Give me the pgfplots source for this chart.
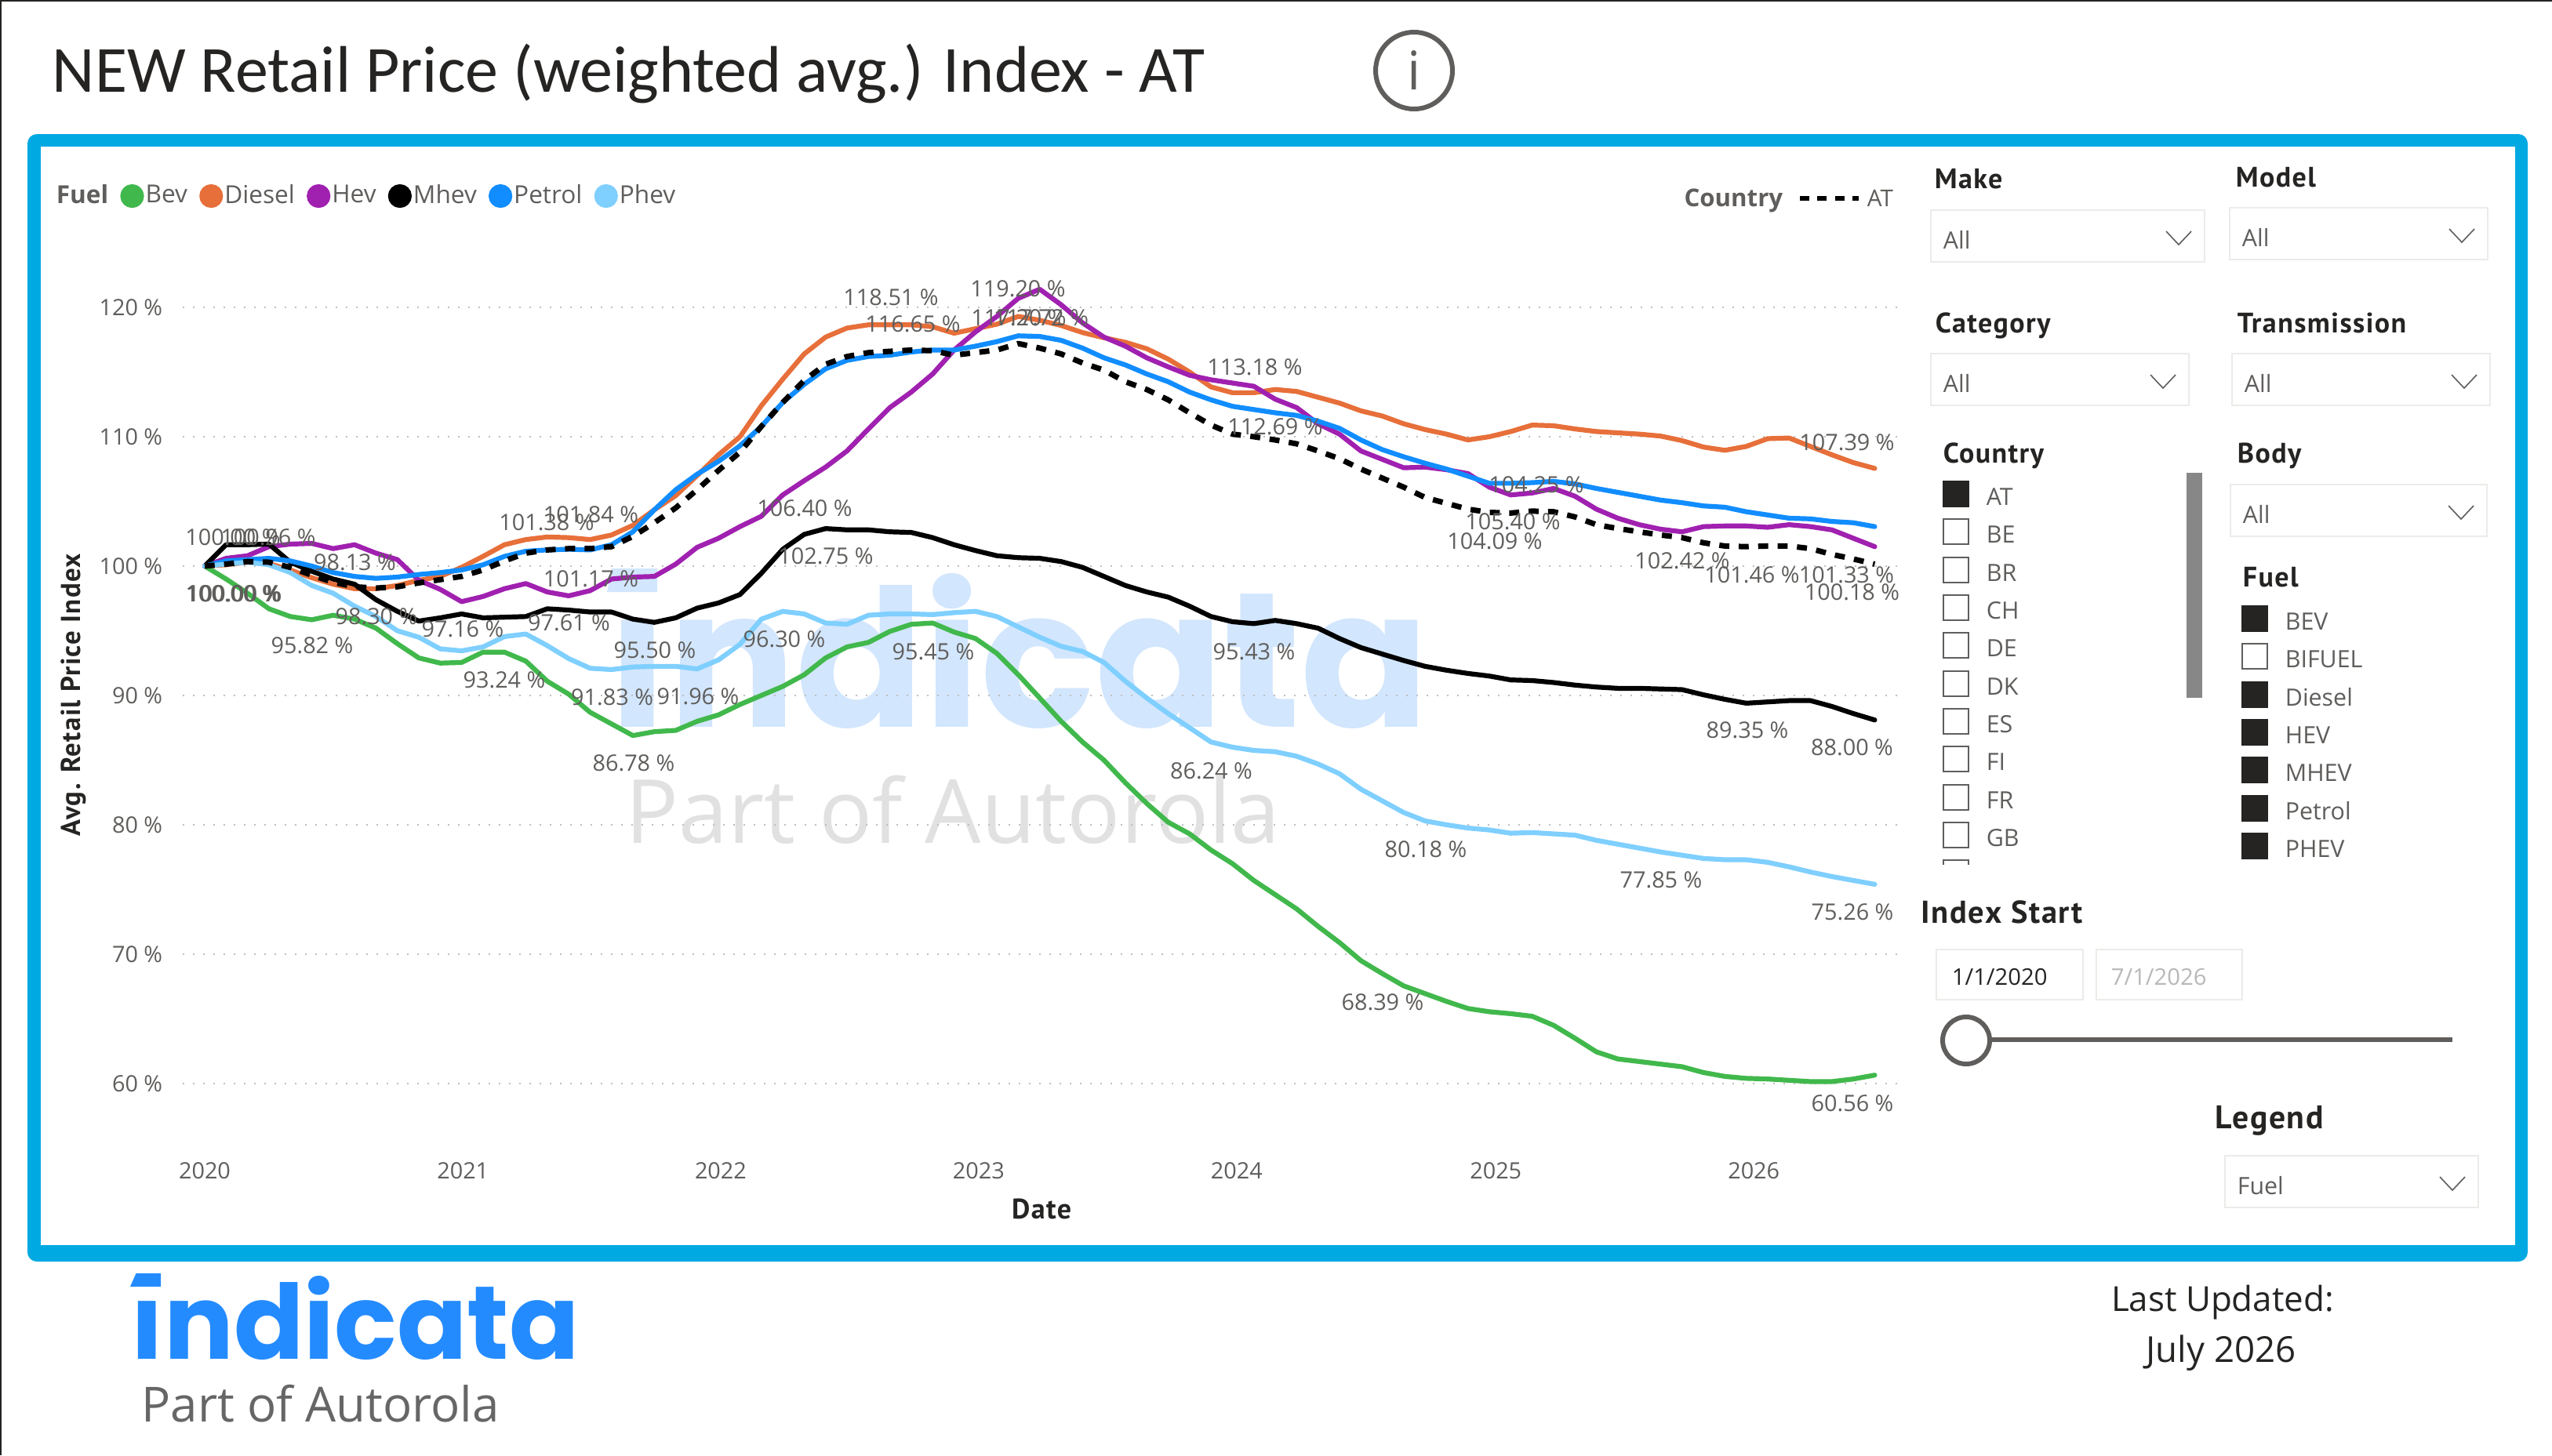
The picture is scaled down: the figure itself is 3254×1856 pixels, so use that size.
\documentclass[border=0pt]{standalone}
\usepackage{graphicx}
\usepackage{fontspec}
\usepackage{pgfplots}
\usepackage{pgfplotstable}
\pgfplotsset{compat=1.18}
\setmainfont{Open Sans}
\newfontfamily\din[LetterSpace=4]{PT Sans}
\newfontfamily\logofont{Poppins}
\newfontfamily\titlefont{Carlito}
\definecolor{bev}{HTML}{41B84C}
\definecolor{diesel}{HTML}{E76F3A}
\definecolor{hev}{HTML}{A020B0}
\definecolor{petrol}{HTML}{118DFF}
\definecolor{phev}{HTML}{7FCFFF}
\definecolor{frame}{HTML}{00A9E2}
\definecolor{txt}{HTML}{605E5C}
\definecolor{dark}{HTML}{252423}
\definecolor{boxc}{HTML}{EDEBE9}
\definecolor{wmblue}{HTML}{D2E6FD}
\definecolor{wmgray}{HTML}{E1E1E1}
\definecolor{logoblue}{HTML}{248BFF}
\newcommand\fs[1]{\fontsize{#1}{#1}\selectfont}

% i bev diesel hev mhev petrol phev at
\pgfplotstableread{
i bev diesel hev mhev petrol phev at
0 100 100 100 100 100 100 100
1 99.0 100.1 100.6 101.65 100.4 100.15 100.15
2 97.9 100.3 100.8 101.65 100.5 100.3 100.35
3 96.7 100.2 101.5 101.7 100.6 100.1 100.3
4 96.1 99.7 101.7 100.3 100.4 99.5 99.9
5 95.85 99.1 101.75 99.6 100 98.5 99.3
6 96.2 98.6 101.35 99 99.5 97.9 98.75
7 95.9 98.25 101.65 98.6 99.2 96.9 98.4
8 95.2 98.25 101 97.4 99.05 96.1 98.3
9 94 98.5 100.5 96.5 99.15 95 98.4
10 92.9 98.9 98.9 95.75 99.35 94.5 98.7
11 92.5 99.2 98.2 96 99.5 93.6 98.95
12 92.55 99.9 97.25 96.3 99.7 93.45 99.2
13 93.35 100.75 97.65 96 100.1 93.75 99.7
14 93.35 101.65 98.25 96.05 100.75 94.55 100.4
15 92.65 102.05 98.65 96.1 101.15 94.75 101
16 91.1 102.25 98 96.7 101.25 93.85 101.25
17 90.1 102.2 97.7 96.6 101.3 92.85 101.35
18 88.7 102.05 98.1 96.45 101.25 92.1 101.35
19 87.8 102.4 99 96.45 101.65 92 101.5
20 86.9 103.15 99.15 95.9 102.65 92.2 102.3
21 87.2 104.35 99.2 95.65 104.35 92.25 103.35
22 87.3 105.45 100.15 96 105.9 92.25 104.5
23 88 107 101.45 96.75 107.1 92.05 105.9
24 88.5 108.6 102.15 97.15 108.1 92.75 107.4
25 89.3 110 103.05 97.8 109.3 93.95 108.8
26 90 112.4 103.85 99.45 110.8 95.9 110.8
27 90.7 114.45 105.5 101.3 112.65 96.5 112.65
28 91.6 116.4 106.6 102.45 114.05 96.3 114.35
29 92.9 117.7 107.65 102.9 115.25 95.6 115.6
30 93.75 118.4 108.9 102.8 115.9 95.5 116.2
31 94.1 118.65 110.6 102.8 116.2 96.2 116.5
32 94.95 118.65 112.25 102.65 116.3 96.3 116.6
33 95.5 118.65 113.45 102.6 116.55 96.3 116.7
34 95.6 118.5 114.85 102.2 116.7 96.25 116.65
35 94.9 118 116.7 101.65 116.7 96.4 116.3
36 94.4 118.35 118.1 101.2 117 96.5 116.5
37 93.25 118.7 119.3 100.8 117.35 96.1 116.7
38 91.6 119.3 120.7 100.65 117.8 95.3 117.2
39 89.8 119 121.4 100.6 117.75 94.5 116.85
40 88 118.6 120.2 100.35 117.45 93.8 116.4
41 86.4 118.05 118.8 99.9 116.85 93.4 115.7
42 85 117.65 117.7 99.2 116.1 92.55 115.15
43 83.25 117.3 117 98.5 115.55 91.1 114.25
44 81.65 116.8 116.1 98 114.85 89.8 113.65
45 80.2 116 115.4 97.6 114.25 88.6 112.85
46 79.3 115 114.75 96.9 113.45 87.5 111.85
47 78.05 113.85 114.4 96.1 112.85 86.4 110.9
48 77 113.4 114.15 95.7 112.35 86 110.2
49 75.7 113.4 113.9 95.55 112.1 85.75 110
50 74.6 113.65 112.9 95.8 111.85 85.65 109.75
51 73.5 113.5 112.25 95.55 111.65 85.3 109.45
52 72.15 113.05 111 95.2 111.2 84.7 108.9
53 70.9 112.6 110.2 94.4 110.65 83.95 108.3
54 69.5 112 108.9 93.7 109.75 82.75 107.5
55 68.5 111.6 108.25 93.2 109 81.85 106.8
56 67.55 111 107.6 92.7 108.45 80.95 106.1
57 66.95 110.55 107.65 92.25 107.95 80.3 105.3
58 66.35 110.2 107.45 91.95 107.5 80 104.85
59 65.8 109.75 107.15 91.7 106.95 79.75 104.4
60 65.55 110 106.1 91.5 106.4 79.6 104.15
61 65.4 110.4 105.5 91.2 106.4 79.35 104.1
62 65.2 110.9 105.65 91.15 106.45 79.4 104.25
63 64.5 110.85 106 91 106.55 79.3 104.2
64 63.5 110.6 105.4 90.8 106.35 79.2 103.8
65 62.45 110.4 104.4 90.65 106 78.8 103.2
66 61.9 110.3 103.7 90.55 105.7 78.5 102.9
67 61.7 110.2 103.2 90.55 105.4 78.2 102.65
68 61.5 110.05 102.85 90.5 105.1 77.9 102.4
69 61.3 109.7 102.65 90.45 104.9 77.65 102.2
70 60.85 109.2 103.05 90.05 104.65 77.4 101.8
71 60.55 108.95 103.1 89.7 104.55 77.3 101.55
72 60.4 109.25 103.1 89.4 104.2 77.3 101.5
73 60.35 109.85 103 89.5 103.95 77.1 101.55
74 60.25 109.9 103.2 89.6 103.7 76.75 101.55
75 60.15 109.25 103.05 89.6 103.65 76.35 101.35
76 60.15 108.6 102.8 89.15 103.45 76 100.9
77 60.35 108 102.15 88.6 103.35 75.7 100.55
78 60.65 107.55 101.5 88.1 103.05 75.4 100.15
}\prices

% data labels, centre given in reference pixels
\newcommand\dl[3]{\node[anchor=base,inner sep=0,text=txt,font=\fs{7.2}] at (#1,#2+10.5) {#3};}
% dropdown: x1 y1 x2 y2 text
\newcommand\drop[5]{%
  \draw[boxc,line width=0.7pt] (#1,#2) rectangle (#3,#4);
  \node[anchor=base west,inner sep=0,text=txt,font=\fs{7.6}] at (#1+15,#2+49) {#5};
  \draw[txt,line width=0.4pt] (#3-49,#2+27) -- (#3-33,#2+44) -- (#3-17,#2+27);}
\newcommand\slhead[3]{\node[anchor=base west,inner sep=0,text=dark,font=\din\bfseries\fs{9}] at (#1,#2+12) {#3};}
\newcommand\chk[4]{% x y filled text
  \ifnum#3=1 \fill[dark!100] (#1,#2) rectangle (#1+34,#2+34);
  \else \draw[txt,line width=0.4pt] (#1+1,#2+1) rectangle (#1+33,#2+33);\fi
  \node[anchor=base west,inner sep=0,text=txt,font=\fs{7.6}] at (#1+55,#2+31) {#4};}

\begin{document}
\begin{tikzpicture}
\begin{scope}[x=0.25pt,y=-0.25pt]
  \path[use as bounding box] (0,0) rectangle (3254,1856);
  \fill[white] (0,0) rectangle (3254,1856);
  \fill[dark] (0,0) rectangle (3254,2);
  \fill[dark] (0,0) rectangle (2,1856);
  % title and info icon
  \node[anchor=base west,inner sep=0,text=dark] at (66,117) {\resizebox{367.25pt}{!}{\titlefont\fs{20}NEW Retail Price (weighted avg.) Index - AT}};
  \draw[txt,line width=1.5pt] (1803,90) circle (49);
  \node[anchor=center,inner sep=0,text=txt,font=\fs{17}] at (1803,90) {i};
  % panel frame
  \fill[frame,rounded corners=3pt] (35,171) rectangle (3223,1609);
  \fill[white] (52,187) rectangle (3207,1588);
  % watermark behind the lines
  \node[anchor=base west,inner sep=0,text=wmblue] at (774,927) {\resizebox{261.75pt}{49pt}{\logofont\bfseries\fs{20}ındicata}};
  \fill[wmblue] (780,725) -- (838,725) -- (838,755) -- (774,755) -- cycle;
  \node[anchor=base west,inner sep=0,text=wmgray] at (797,1075) {\resizebox{208.75pt}{!}{\fs{20}Part of Autorola}};
\end{scope}

\begin{axis}[
  at={(58.25pt,-360pt)}, anchor=south west,
  scale only axis, width=547pt, height=275pt,
  xmin=-1.026, xmax=79.12, ymin=56.48, ymax=123.15,
  axis line style={draw=none}, tick style={draw=none},
  clip=false,
  ymajorgrids,
  grid style={draw=black!25,line width=0.55pt,dash pattern=on 0.6pt off 2.65pt},
  xtick={0,12.06,24.1,36.15,48.2,60.3,72.35},
  xticklabels={2020,2021,2022,2023,2024,2025,2026},
  ytick={60,70,80,90,100,110,120},
  yticklabels={60 \%,70 \%,80 \%,90 \%,100 \%,110 \%,120 \%},
  ticklabel style={font=\fs{7.2},text=txt,inner sep=0},
  xticklabel style={yshift=-10.5pt},
  yticklabel style={xshift=-6.25pt},
  xlabel={Date}, ylabel={Avg. Retail Price Index},
  x label style={at={(axis description cs:0.5005,-0.0927)},anchor=center,font=\din\bfseries\fs{9},text=dark},
  y label style={at={(axis description cs:-0.0636,0.5036)},anchor=center,font=\din\bfseries\fs{8.7},text=dark},
  every axis plot/.append style={line width=1.55pt,line join=round,line cap=round},
  legend style={at={(axis description cs:-0.0746,1.0818)},anchor=west,draw=none,fill=none,
    inner sep=0pt,outer sep=0pt,font=\fs{7.9},text=txt,legend columns=-1,
    /tikz/every even column/.append style={column sep=1.8pt},
    /tikz/every odd column/.append style={column sep=-1.5pt}},
  legend image code/.code={\fill[#1] (0,0) circle (3pt);},
]
\addlegendimage{empty legend}\addlegendentry{\textbf{Fuel}\hspace{1.5pt}}
\addplot[color=bev] table[x=i,y=bev] {\prices};\addlegendentry{Bev}
\addplot[color=diesel] table[x=i,y=diesel] {\prices};\addlegendentry{Diesel}
\addplot[color=hev] table[x=i,y=hev] {\prices};\addlegendentry{Hev}
\addplot[color=black] table[x=i,y=mhev] {\prices};\addlegendentry{Mhev}
\addplot[color=petrol] table[x=i,y=petrol] {\prices};\addlegendentry{Petrol}
\addplot[color=phev] table[x=i,y=phev] {\prices};\addlegendentry{Phev}
\addplot[color=black,line width=1.75pt,line cap=butt,dash pattern=on 3.2pt off 3pt,forget plot] table[x=i,y=at] {\prices};
\end{axis}

\begin{scope}[x=0.25pt,y=-0.25pt]
  % country legend
  \node[anchor=base east,inner sep=0,text=txt,font=\bfseries\fs{7.8}] at (2274,263) {Country};
  \draw[black,line width=1.3pt,dash pattern=on 3pt off 2.6pt] (2295,253) -- (2370,253);
  \node[anchor=base west,inner sep=0,text=txt,font=\fs{7.4}] at (2380,263) {AT};
  % data labels
  \dl{297}{685}{100.00 \%}\dl{342}{685}{100.96 \%}
  \dl{297}{757}{100.00 \%}\dl{298}{757}{100.00 \%}\dl{299}{757}{100.00 \%}
  \dl{452.5}{717}{98.13 \%}\dl{480}{786}{98.30 \%}\dl{398}{823}{95.82 \%}
  \dl{590}{802}{97.16 \%}\dl{643}{867}{93.24 \%}\dl{725.5}{794}{97.61 \%}
  \dl{697}{666}{101.38 \%}\dl{753.5}{656}{101.84 \%}\dl{753.5}{738}{101.17 \%}
  \dl{835}{829}{95.50 \%}\dl{780.6}{889}{91.83 \%}\dl{890}{888}{91.96 \%}
  \dl{808}{973}{86.78 \%}\dl{1000}{815}{96.30 \%}\dl{1026}{648}{106.40 \%}
  \dl{1053}{709}{102.75 \%}\dl{1136}{379}{118.51 \%}\dl{1164}{413}{116.65 \%}
  \dl{1298}{368}{119.20 \%}\dl{1299}{405}{117.20 \%}\dl{1327.5}{405}{117.72 \%}
  \dl{1600}{468}{113.18 \%}\dl{1626}{544}{112.69 \%}\dl{1599}{831}{95.43 \%}
  \dl{1190}{831}{95.45 \%}\dl{1544.5}{983}{86.24 \%}\dl{1818}{1083}{80.18 \%}
  \dl{2118}{1122}{77.85 \%}\dl{2362}{1163}{75.26 \%}\dl{1763}{1278}{68.39 \%}
  \dl{2362}{1407}{60.56 \%}\dl{2355}{563.5}{107.39 \%}\dl{1959}{618}{104.25 \%}
  \dl{1929}{665}{105.40 \%}\dl{1906}{690}{104.09 \%}\dl{2145}{715}{102.42 \%}
  \dl{2234}{733}{101.46 \%}\dl{2354.5}{733}{101.33 \%}\dl{2361.5}{755}{100.18 \%}
  \dl{2228}{931}{89.35 \%}\dl{2361.5}{953}{88.00 \%}
  % slicers
  \slhead{2466}{228}{Make}\drop{2462}{268}{2811}{334}{All}
  \slhead{2850}{226}{Model}\drop{2843}{265}{3172}{331}{All}
  \slhead{2467}{412}{Category}\drop{2462}{451}{2791}{517}{All}
  \slhead{2852}{412}{Transmission}\drop{2846}{451}{3175}{517}{All}
  \slhead{2477}{578}{Country}
  \slhead{2852}{578}{Body}\drop{2844}{618}{3171}{684}{All}
  \slhead{2859}{736}{Fuel}
  \chk{2477}{613}{1}{AT}\chk{2477}{661}{0}{BE}\chk{2477}{710}{0}{BR}\chk{2477}{758}{0}{CH}
  \chk{2477}{806}{0}{DE}\chk{2477}{855}{0}{DK}\chk{2477}{903}{0}{ES}\chk{2477}{951}{0}{FI}
  \chk{2477}{1000}{0}{FR}\chk{2477}{1048}{0}{GB}
  \draw[txt,line width=0.4pt] (2478,1103) -- (2478,1097) -- (2510,1097) -- (2510,1103);
  \fill[black!47] (2788,603) rectangle (2808,890);
  \chk{2858}{772}{1}{BEV}\chk{2858}{820}{0}{BIFUEL}\chk{2858}{869}{1}{Diesel}\chk{2858}{917}{1}{HEV}
  \chk{2858}{965}{1}{MHEV}\chk{2858}{1014}{1}{Petrol}\chk{2858}{1062}{1}{PHEV}
  % index start
  \node[anchor=base west,inner sep=0,text=dark] at (2449,1177) {\resizebox{51.5pt}{!}{\din\bfseries\fs{10}Index Start}};
  \draw[boxc,line width=0.7pt] (2469,1211) rectangle (2656,1275);
  \draw[boxc,line width=0.7pt] (2673,1211) rectangle (2859,1275);
  \node[anchor=base west,inner sep=0,text=dark,font=\fs{7.3}] at (2488,1256) {1/1/2020};
  \node[anchor=base west,inner sep=0,text=black!28,font=\fs{7.3}] at (2691,1256) {7/1/2026};
  \draw[txt,line width=1.6pt] (2540,1326) -- (3127,1326);
  \draw[txt,line width=1.5pt] (2507,1327) circle (30);
  \node[anchor=base west,inner sep=0,text=dark] at (2824,1439) {\resizebox{34.5pt}{!}{\din\bfseries\fs{10}Legend}};
  \drop{2837}{1474}{3160}{1540}{Fuel}
  % footer
  \node[anchor=base west,inner sep=0,text=logoblue] at (166,1733) {\resizebox{143pt}{26.5pt}{\logofont\bfseries\fs{20}ındicata}};
  \fill[logoblue] (173.5,1624) -- (205,1624) -- (205,1641) -- (166,1641) -- cycle;
  \node[anchor=base west,inner sep=0,text=black!60] at (180,1813) {\resizebox{114pt}{!}{\fs{20}Part of Autorola}};
  \node[anchor=base,inner sep=0,text=dark] at (2834,1672) {\resizebox{71pt}{!}{\fs{11}Last Updated:}};
  \node[anchor=base,inner sep=0,text=dark,font=\fs{11.4}] at (2832,1737) {July 2026};
\end{scope}
\end{tikzpicture}
\end{document}
